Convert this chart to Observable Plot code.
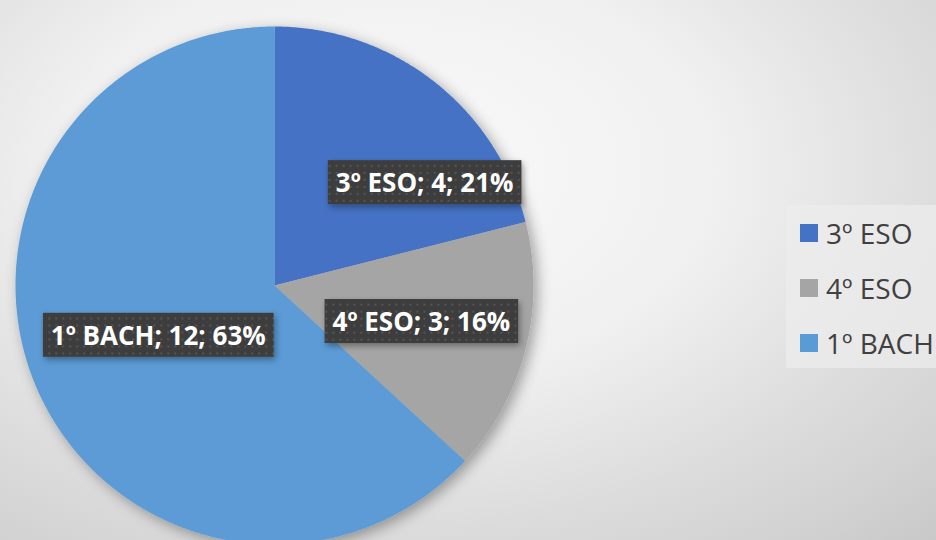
<!DOCTYPE html>
<html><head><meta charset="utf-8">
<script src="https://cdn.jsdelivr.net/npm/d3@7"></script>
<script src="https://cdn.jsdelivr.net/npm/@observablehq/plot@0.6"></script>
<style>
html,body{margin:0;padding:0;background:#fff;}
#wrap{position:relative;width:936px;height:540px;overflow:hidden;
  background:radial-gradient(ellipse 660px 420px at 390px 170px, #fafafa 0%, #f0f0f0 50%, #dcdcdc 85%, #d2d2d2 105%, #c6c6c6 125%);}
#wrap svg{position:absolute;left:0;top:0;background:transparent;}
#legend{position:absolute;left:786px;top:205px;width:170px;height:163px;background:rgba(236,236,236,0.75);
  font-family:"Open Sans",sans-serif;color:#404040;font-size:28px;box-sizing:border-box;padding-top:0;}
.li{height:55px;display:flex;align-items:center;white-space:nowrap;margin-left:14px;}
.sw{width:18px;height:18px;margin-right:8px;flex:none;}
</style></head><body><div id="wrap"></div>
<script>
const categories = ["3º ESO", "4º ESO", "1º BACH"];
const counts = [4, 3, 12];
const colors = ["#4472C4", "#A5A5A5", "#5B9BD5"];

// layout (not data): label placement per slice: angular shift (deg) and radius fraction
const labelPlacement = [{shift: 18, r: 0.70}, {shift: 0, r: 0.585}, {shift: 0, r: 0.49}];

const total = d3.sum(counts);
const arcs = d3.pie().sort(null)(counts);
const slicePts = [];
arcs.forEach((a, i) => {
  slicePts.push({cat: categories[i], x: 0, y: 0});
  const n = Math.max(2, Math.ceil((a.endAngle - a.startAngle) / (Math.PI / 360)));
  for (let k = 0; k <= n; k++) {
    const t = a.startAngle + (a.endAngle - a.startAngle) * k / n;
    slicePts.push({cat: categories[i], x: Math.sin(t), y: Math.cos(t)});
  }
});
const labels = arcs.map((a, i) => {
  const t = (a.startAngle + a.endAngle) / 2 + labelPlacement[i].shift * Math.PI / 180;
  const r = labelPlacement[i].r;
  return {cat: categories[i], x: r * Math.sin(t), y: r * Math.cos(t),
    text: `${categories[i]}; ${counts[i]}; ${Math.round(counts[i] / total * 100)}%`};
});

const R = 259, CX = 274, CY = 285, W = 936, H = 540;
const plot = Plot.plot({
  width: W, height: H, margin: 0,
  x: {domain: [-CX / R, (W - CX) / R], axis: null},
  y: {domain: [-(H - CY) / R, CY / R], axis: null},
  color: {domain: categories, range: colors},
  style: {background: "transparent"},
  marks: [
    Plot.line(slicePts, {x: "x", y: "y", z: "cat", fill: "cat", stroke: "none", curve: "linear-closed"}),
    Plot.text(labels, {x: "x", y: "y", text: "text", fill: "white", fontFamily: "Open Sans", fontWeight: "bold", fontSize: 26})
  ]
});
const wrap = document.getElementById("wrap");
wrap.appendChild(plot);

const ns = "http://www.w3.org/2000/svg";
const defs = document.createElementNS(ns, "defs");
defs.innerHTML = `
<filter id="pieShadow" x="-20%" y="-20%" width="140%" height="140%">
  <feDropShadow dx="4" dy="4" stdDeviation="7" flood-color="#000" flood-opacity="0.35"/>
</filter>
<filter id="boxShadow" x="-20%" y="-40%" width="140%" height="180%">
  <feDropShadow dx="2" dy="3" stdDeviation="3" flood-color="#000" flood-opacity="0.35"/>
</filter>
<pattern id="dots" width="7" height="7" patternUnits="userSpaceOnUse">
  <rect width="7" height="7" fill="#3d3d3d"/>
  <rect x="2" y="2" width="2" height="2" fill="#555"/>
</pattern>`;
plot.insertBefore(defs, plot.firstChild);
const lineG = plot.querySelector('g[aria-label="line"]');
if (lineG) lineG.setAttribute("filter", "url(#pieShadow)");
plot.querySelectorAll('g[aria-label="text"] text').forEach(t => {
  const bb = t.getBBox();
  const rect = document.createElementNS(ns, "rect");
  rect.setAttribute("x", bb.x - 8);
  rect.setAttribute("y", bb.y - 4);
  rect.setAttribute("width", bb.width + 16);
  rect.setAttribute("height", bb.height + 8);
  rect.setAttribute("fill", "url(#dots)");
  rect.setAttribute("filter", "url(#boxShadow)");
  if (t.getAttribute("transform")) rect.setAttribute("transform", t.getAttribute("transform"));
  t.parentNode.insertBefore(rect, t);
});

const legend = document.createElement("div");
legend.id = "legend";
categories.forEach((c, i) => {
  const row = document.createElement("div");
  row.className = "li";
  row.innerHTML = `<span class="sw" style="background:${colors[i]}"></span><span>${c}</span>`;
  legend.appendChild(row);
});
wrap.appendChild(legend);
</script></body></html>
